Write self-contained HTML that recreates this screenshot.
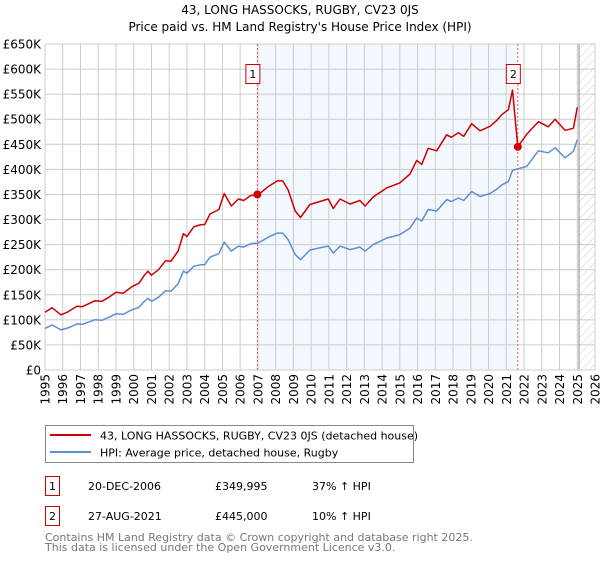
<!DOCTYPE html>
<html><head><meta charset="utf-8"><style>
body{margin:0;background:#fff;font-family:"DejaVu Sans","Liberation Sans",sans-serif;}
</style></head><body>
<svg width="600" height="560" xmlns="http://www.w3.org/2000/svg" style="font-family:'DejaVu Sans','Liberation Sans',sans-serif">
<defs>
<pattern id="hatch" width="6" height="6" patternUnits="userSpaceOnUse" patternTransform="rotate(45)">
<line x1="0" y1="0" x2="0" y2="6" stroke="#ccc" stroke-width="1"/></pattern>
</defs>
<text x="300" y="14" text-anchor="middle" font-size="12">43, LONG HASSOCKS, RUGBY, CV23 0JS</text>
<text x="300" y="31" text-anchor="middle" font-size="12">Price paid vs. HM Land Registry's House Price Index (HPI)</text>
<g id="plot"></g>
<g>
<rect x="45.5" y="425.5" width="368" height="37" fill="#fff" stroke="#888"/>
<line x1="50" y1="435" x2="91" y2="435" stroke="#cc0000" stroke-width="2"/>
<text x="100" y="439.5" font-size="11">43, LONG HASSOCKS, RUGBY, CV23 0JS (detached house)</text>
<line x1="50" y1="452" x2="91" y2="452" stroke="#5b8fd4" stroke-width="2"/>
<text x="100" y="456.5" font-size="11">HPI: Average price, detached house, Rugby</text>
</g>
<g font-size="11">
<rect x="45.5" y="476.5" width="14" height="19" fill="#fff" stroke="#cc0000"/>
<text x="52.5" y="490" text-anchor="middle">1</text>
<text x="88" y="490">20-DEC-2006</text><text x="215" y="490">£349,995</text><text x="312" y="490">37% ↑ HPI</text>
<rect x="45.5" y="506.5" width="14" height="19" fill="#fff" stroke="#cc0000"/>
<text x="52.5" y="520" text-anchor="middle">2</text>
<text x="88" y="520">27-AUG-2021</text><text x="215" y="520">£445,000</text><text x="312" y="520">10% ↑ HPI</text>
</g>
<text x="45" y="541" font-size="11" fill="#777">Contains HM Land Registry data © Crown copyright and database right 2025.</text>
<text x="45" y="551" font-size="11" fill="#777">This data is licensed under the Open Government Licence v3.0.</text>
</svg>
<script>
const hpiYears=[1995.0,1995.4,1995.9,1996.3,1996.8,1997.1,1997.8,1998.2,1998.6,1999.0,1999.4,1999.9,2000.3,2000.6,2000.8,2001.0,2001.4,2001.8,2002.1,2002.5,2002.8,2003.0,2003.4,2003.8,2004.0,2004.3,2004.8,2005.1,2005.5,2005.9,2006.2,2006.6,2007.0,2007.6,2008.1,2008.4,2008.7,2009.1,2009.4,2009.93,2010.4,2010.97,2011.25,2011.63,2012.19,2012.75,2013.04,2013.5,2014.26,2015.0,2015.57,2015.95,2016.23,2016.6,2017.08,2017.64,2017.9,2018.3,2018.6,2019.05,2019.52,2020.08,2020.45,2020.74,2021.12,2021.35,2021.65,2022.15,2022.81,2023.37,2023.75,2024.31,2024.78,2025.0];
const hpiValues=[83,90,80,84,92,91,100,99,105,112,111,120,125,137,143,137,145,158,157,172,197,193,207,210,210,225,232,255,237,247,245,252,253,265,273,273,260,230,220,239,243,247,233,247,240,245,237,250,263,270,283,303,297,320,317,340,336,343,338,356,346,352,360,369,376,398,401,406,437,433,443,423,436,459];
const propValues=[115,124,110,116,127,126,138,137,145,155,153,166,173,189,197,189,200,218,217,237,272,266,286,290,290,311,320,352,327,341,338,348,349,366,377,377,359,317,304,330,335,341,322,341,331,338,327,345,363,373,391,418,410,442,437,469,464,473,466,491,477,486,497,509,519,558,445,470,495,485,500,478,482,524];
const saleYears=[2006.97,2021.65];
const salePrices=[349995,445000];
const saleLabels=["1","2"];
const yTicks=[0,50,100,150,200,250,300,350,400,450,500,550,600,650];
const xTicks=[1995,1996,1997,1998,1999,2000,2001,2002,2003,2004,2005,2006,2007,2008,2009,2010,2011,2012,2013,2014,2015,2016,2017,2018,2019,2020,2021,2022,2023,2024,2025,2026];
const X0=45,X1=595,Y0=370,Y1=44;
const xs=y=>X0+(y-1995)/31*(X1-X0);
const ys=v=>Y0-v/650*(Y0-Y1);
const NS="http://www.w3.org/2000/svg";
const g=document.getElementById('plot');
function mk(t,a){const e=document.createElementNS(NS,t);for(const k in a)e.setAttribute(k,a[k]);g.appendChild(e);return e;}
let e=mk('rect',{x:xs(saleYears[0]),y:Y1,width:xs(saleYears[1])-xs(saleYears[0]),height:Y0-Y1,fill:'#eef3fd',opacity:0.7});


e=mk('rect',{x:xs(2025.1),y:Y1,width:X1-xs(2025.1),height:Y0-Y1,fill:'url(#hatch)'});


yTicks.forEach(t=>{
 const l=mk('line',{x1:X0,x2:X1,y1:ys(t),y2:ys(t),stroke:'#ccc','stroke-width':1});
 
 
 const tx=mk('text',{x:41,y:ys(t)+4.5,'text-anchor':'end','font-size':12});
 tx.textContent=t===0?'£0':'£'+t+'K';
 
 
});
xTicks.forEach(t=>{
 const l=mk('line',{x1:xs(t),x2:xs(t),y1:Y1,y2:Y0,stroke:'#ccc','stroke-width':1});
 
 
 const tx=mk('text',{x:0,y:0,'text-anchor':'end','font-size':12,transform:`translate(${xs(t)+4.5},${Y0+4}) rotate(-90)`});
 tx.textContent=t;
 
 
});
e=mk('line',{x1:xs(2025.1),x2:xs(2025.1),y1:Y1,y2:Y0,stroke:'#888','stroke-width':1});


e=mk('rect',{x:X0,y:Y1,width:X1-X0,height:Y0-Y1,fill:'none',stroke:'#ccc'});


saleYears.forEach((s,i)=>{
 const l=mk('line',{x1:xs(s),x2:xs(s),y1:Y1,y2:Y0,stroke:'#ee5555','stroke-width':1,'stroke-dasharray':'2,2'});
 
 
});
const pts=(vals)=>hpiYears.map((y,i)=>xs(y).toFixed(1)+','+ys(vals[i]).toFixed(1)).join(' ');
e=mk('polyline',{points:pts(hpiValues),fill:'none',stroke:'#5b8fd4','stroke-width':1.5,'stroke-linejoin':'round'});


e=mk('polyline',{points:pts(propValues),fill:'none',stroke:'#cc0000','stroke-width':1.5,'stroke-linejoin':'round'});


saleYears.forEach((s,i)=>{
 const c=mk('circle',{cx:xs(s),cy:ys(salePrices[i]/1000),r:4,fill:'#cc0000'});
 
 
 const r=mk('rect',{x:xs(s)-11.5,y:64.5,width:14,height:19,fill:'#fff',stroke:'#cc0000'});
 
 
 const t=mk('text',{x:xs(s)-4.5,y:78,'text-anchor':'middle','font-size':11});
 t.textContent=saleLabels[i];
 
 
});
</script>
</body></html>
